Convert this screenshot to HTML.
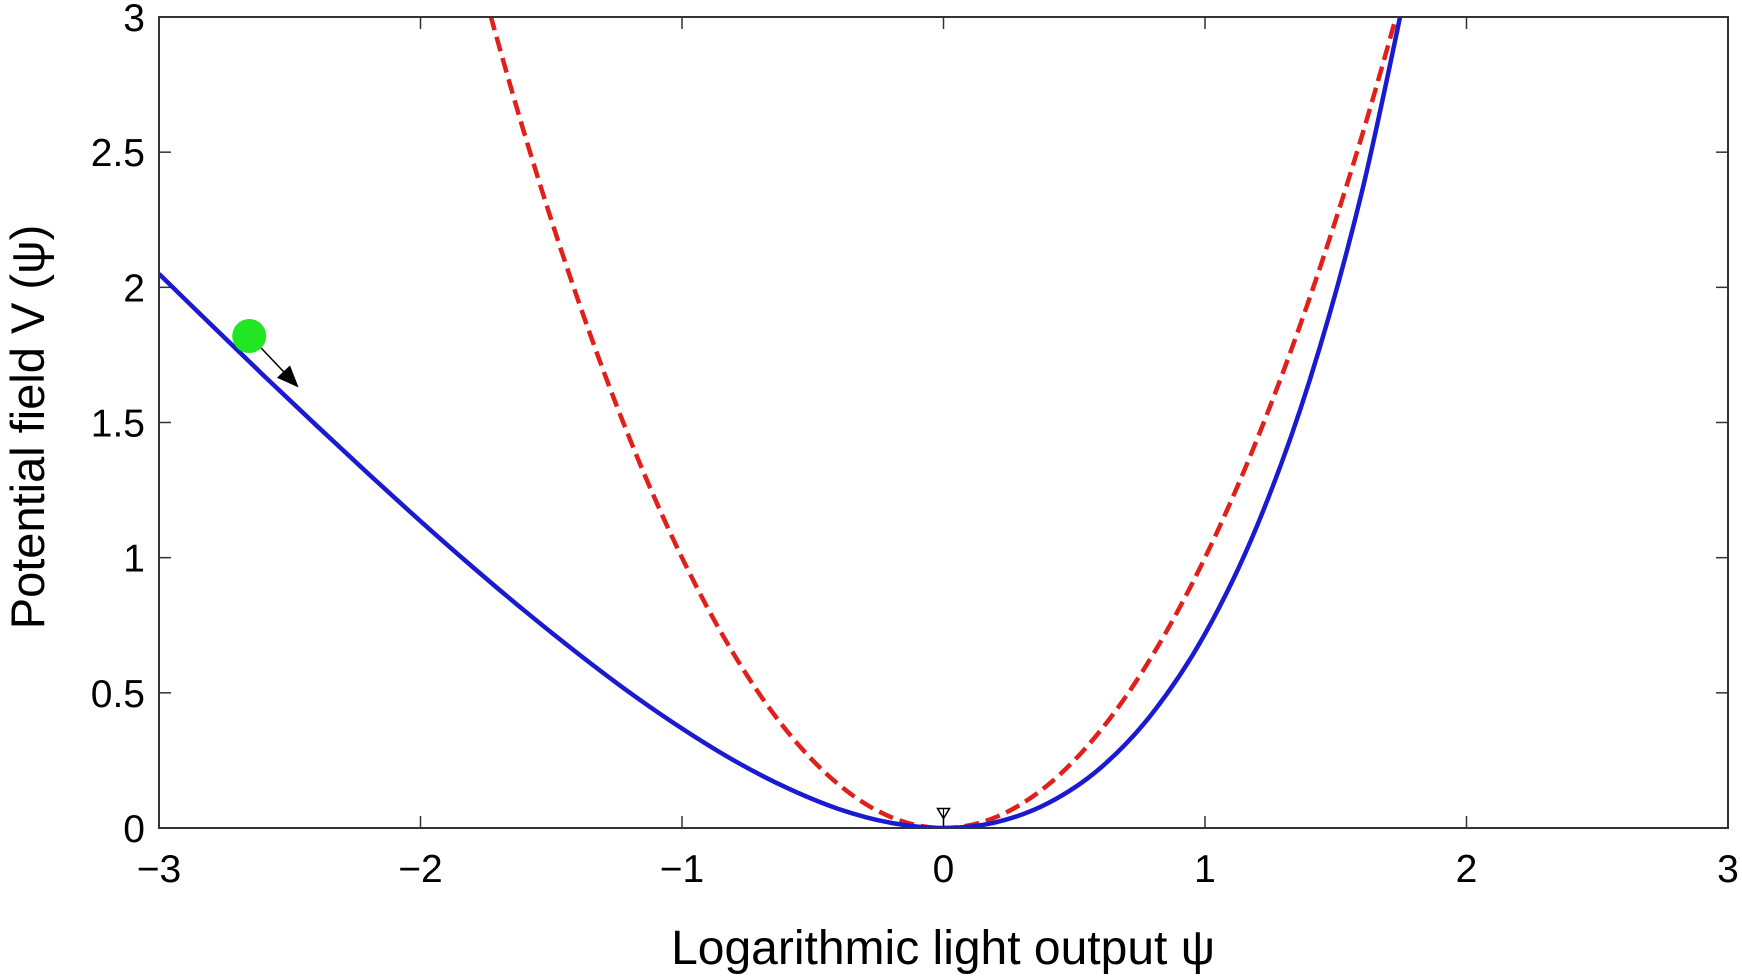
<!DOCTYPE html>
<html><head><meta charset="utf-8"><style>
body{margin:0;background:#fff;}
svg{display:block;font-family:"Liberation Sans",Arial,sans-serif;}
</style></head><body>
<svg id="chart" width="1742" height="979" viewBox="0 0 1742 979" xmlns="http://www.w3.org/2000/svg">
<defs><clipPath id="plotclip"><rect x="159" y="17" width="1569" height="811"/></clipPath>
<marker id="ah" markerWidth="22" markerHeight="22" refX="20" refY="11" orient="auto" markerUnits="userSpaceOnUse"><path d="M0,2 L22,11 L0,20 Z" fill="#000"/></marker></defs>
<g id="grid"></g>
<g id="series" clip-path="url(#plotclip)"></g>
<g id="overlay"></g>
<text x="943" y="964" text-anchor="middle" font-size="48">Logarithmic light output ψ</text>
<text transform="translate(44,427) rotate(-90)" text-anchor="middle" font-size="47">Potential field V (ψ)</text>
<rect x="159" y="17" width="1569" height="811" fill="none" stroke="#333" stroke-width="2"/>
</svg>
<script>
const xTicks=[-3,-2,-1,0,1,2,3];
const xTickLabels=["\u22123","\u22122","\u22121","0","1","2","3"];
const yTicks=[0,0.5,1,1.5,2,2.5,3];
const yTickLabels=["0","0.5","1","1.5","2","2.5","3"];
const bluePsi=[-3,-2.8,-2.6,-2.4,-2.2,-2,-1.8,-1.6,-1.4,-1.2,-1,-0.8,-0.6,-0.4,-0.2,0,0.2,0.4,0.6,0.8,1,1.2,1.4,1.6,1.8];
const blueV=[2.050,1.861,1.674,1.491,1.311,1.135,0.965,0.802,0.647,0.501,0.368,0.249,0.149,0.070,0.019,0,0.021,0.092,0.222,0.426,0.718,1.120,1.655,2.353,3.250];
const redPsi=[-1.8,-1.6,-1.4,-1.2,-1,-0.8,-0.6,-0.4,-0.2,0,0.2,0.4,0.6,0.8,1,1.2,1.4,1.6,1.8];
const redV=[3.24,2.56,1.96,1.44,1.0,0.64,0.36,0.16,0.04,0,0.04,0.16,0.36,0.64,1.0,1.44,1.96,2.56,3.24];
const ballPsi=[-2.655];const ballV=[1.82];
const minPsi=[0];const minV=[0.05];
const NS="http://www.w3.org/2000/svg";
const L=159,R=1728,T=17,B=828;
const sx=v=>L+(v+3)/6*(R-L);
const sy=v=>B-v/3*(B-T);
function mk(t,a,p){const e=document.createElementNS(NS,t);for(const k in a)e.setAttribute(k,a[k]);p.appendChild(e);return e;}
const grid=document.getElementById('grid');
xTicks.forEach((v,i)=>{
 const x=sx(v);
 const t1=mk('line',{x1:x,y1:B,x2:x,y2:B-12,stroke:'#333','stroke-width':1.5},grid);
 
 
 const t2=mk('line',{x1:x,y1:T,x2:x,y2:T+12,stroke:'#333','stroke-width':1.5},grid);
 
 
 const tx=mk('text',{x:x,y:882,'text-anchor':'middle','font-size':39},grid);
 tx.textContent=xTickLabels[i];
 
 
});
yTicks.forEach((v,i)=>{
 const y=sy(v);
 const t1=mk('line',{x1:L,y1:y,x2:L+12,y2:y,stroke:'#333','stroke-width':1.5},grid);
 
 
 const t2=mk('line',{x1:R,y1:y,x2:R-12,y2:y,stroke:'#333','stroke-width':1.5},grid);
 
 
 const tx=mk('text',{x:145,y:y+14,'text-anchor':'end','font-size':39},grid);
 tx.textContent=yTickLabels[i];
 
 
});
function smooth(xs,ys){
 const p=xs.map((x,i)=>[sx(x),sy(ys[i])]);
 let d='M'+p[0][0]+','+p[0][1];
 for(let i=0;i<p.length-1;i++){
  const p0=p[Math.max(0,i-1)],p1=p[i],p2=p[i+1],p3=p[Math.min(p.length-1,i+2)];
  const c1=[p1[0]+(p2[0]-p0[0])/6,p1[1]+(p2[1]-p0[1])/6];
  const c2=[p2[0]-(p3[0]-p1[0])/6,p2[1]-(p3[1]-p1[1])/6];
  d+=' C'+c1[0]+','+c1[1]+' '+c2[0]+','+c2[1]+' '+p2[0]+','+p2[1];
 }
 return d;
}
const series=document.getElementById('series');
const red=mk('path',{d:smooth(redPsi,redV),fill:'none',stroke:'#e0201b','stroke-width':4.5,'stroke-dasharray':'15,7'},series);


const blue=mk('path',{d:smooth(bluePsi,blueV),fill:'none',stroke:'#1a1ad0','stroke-width':4.5},series);


const ov=document.getElementById('overlay');
const bx=sx(ballPsi[0]),by=sy(ballV[0]);
const arr=mk('line',{x1:bx+10,y1:by+10,x2:bx+48,y2:by+50,stroke:'#000','stroke-width':1.5,'marker-end':'url(#ah)'},ov);


const ball=mk('circle',{cx:bx,cy:by,r:17,fill:'#22e622'},ov);


const mx=sx(minPsi[0]),my=sy(minV[0]);
const tri=mk('path',{d:`M${mx-6},${my-6} L${mx+6},${my-6} L${mx},${my+4} Z`,fill:'none',stroke:'#000','stroke-width':1.5},ov);


const stem=mk('line',{x1:mx,y1:my-6,x2:mx,y2:my+14,stroke:'#000','stroke-width':1.2},ov);


</script>
</body></html>
